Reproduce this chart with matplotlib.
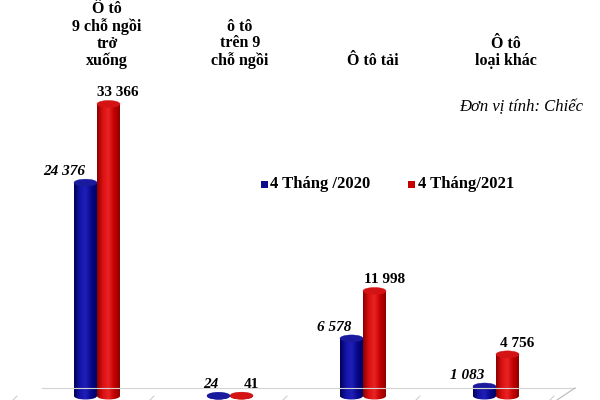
#!/usr/bin/env python
"""plot.py"""
import matplotlib
matplotlib.use('Agg')
import matplotlib.pyplot as plt
from matplotlib.patches import Rectangle, Ellipse
from matplotlib.colors import LinearSegmentedColormap
import numpy as np

plt.rcParams['font.family'] = ['Liberation Serif', 'DejaVu Serif']

categories = ['Ô tô\n9 chỗ ngồi\ntrở\nxuống', 'ô tô\ntrên 9\nchỗ ngồi',
              'Ô tô tải', 'Ô tô\nloại khác']
series_names = ['4 Tháng /2020', '4 Tháng/2021']
values_2020 = [24376, 24, 6578, 1083]
values_2021 = [33366, 41, 11998, 4756]
labels_2020 = ['24 376', '24', '6 578', '1 083']
labels_2021 = ['33 366', '41', '11 998', '4 756']
unit_text = 'Đơn vị tính: Chiếc'

W, H = 600, 400
px_per_unit = 292 / 33366.0   # pixels per car
base_px = 4                   # baseline height above bottom edge
group_px = 133                # pixel distance between groups
first_px = 97

fig = plt.figure(figsize=(6, 4), dpi=100)
ax = fig.add_axes([0, 0, 1, 1])
ax.set_xlim(-first_px / group_px, (W - first_px) / group_px)
ax.set_ylim(-base_px / px_per_unit, (H - base_px) / px_per_unit)
ax.axis('off')

bar_w = 23.0 / group_px
ell_h = 7.0 / px_per_unit


def px(x, y):
    """pixel (from top-left) to figure fraction"""
    return x / W, 1 - y / H


# floor of the 3D chart
fig.add_artist(plt.Line2D([42 / W, 575 / W], [1 - 388 / H, 1 - 388 / H],
                          color='#d4d4d4', lw=0.8))
fig.add_artist(plt.Line2D([575 / W, 557 / W], [1 - 388 / H, 1 - 400 / H],
                          color='#b8b8b8', lw=0.8))
for tx in [17, 154, 287, 420, 554]:
    fig.add_artist(plt.Line2D([tx / W, (tx - 4) / W], [1 - 396 / H, 1 - 400 / H],
                              color='#c8c8c8', lw=0.7))

blue_cmap = LinearSegmentedColormap.from_list(
    'b', ['#00005a', '#1414a8', '#2020b8', '#08088e', '#000060'])
red_cmap = LinearSegmentedColormap.from_list(
    'r', ['#8c0000', '#dc1010', '#e82424', '#c40000', '#900000'])
grad = np.linspace(0, 1, 64).reshape(1, -1)


def cylinder(xc, v, cmap, top_color):
    x0, x1 = xc - bar_w / 2, xc + bar_w / 2
    body = Rectangle((x0, 0), bar_w, v, transform=ax.transData)
    bottom = Ellipse((xc, 0), bar_w, ell_h, transform=ax.transData)
    for clip in (body, bottom):
        im = ax.imshow(grad, cmap=cmap, aspect='auto',
                       extent=[x0, x1, -ell_h, v + ell_h], zorder=2)
        im.set_clip_path(clip)
    ax.add_patch(Ellipse((xc, v), bar_w, ell_h, facecolor=top_color,
                         edgecolor=top_color, lw=0.3, zorder=3))


for i in range(len(categories)):
    xb = i - bar_w / 2
    xr = i + bar_w / 2
    cylinder(xb, values_2020[i], blue_cmap, '#1a1a9e')
    cylinder(xr, values_2021[i], red_cmap, '#d41414')
    ax.annotate(labels_2020[i], (xb, values_2020[i]), xytext=(0, 8),
                textcoords='offset points', ha='right', va='center',
                fontsize=11, fontweight='bold', fontstyle='italic', zorder=4)
    ax.annotate(labels_2021[i], (xr, values_2021[i]), xytext=(7, 8),
                textcoords='offset points', ha='center', va='center',
                fontsize=11, fontweight='bold', zorder=4)
    ax.text(i + 10.0 / group_px, (H - base_px - 69) / px_per_unit,
            categories[i], ha='center', va='bottom', fontsize=11.5,
            fontweight='bold', linespacing=1.06)

fig.text(*px(583, 107), unit_text, ha='right', va='center',
         fontsize=12, fontstyle='italic')

# legend
for (lx, tx), name, col in zip([(261, 270), (408, 418)], series_names,
                               ['#0c0c8c', '#c40000']):
    sx, sy = px(lx, 188)
    fig.add_artist(Rectangle((sx, sy), 7.0 / W, 7.0 / H, facecolor=col,
                             edgecolor='none', transform=fig.transFigure))
    fig.text(*px(tx, 184), name, ha='left', va='center',
             fontsize=12, fontweight='bold')

fig.savefig('out.png', dpi=100)
plt.close()
